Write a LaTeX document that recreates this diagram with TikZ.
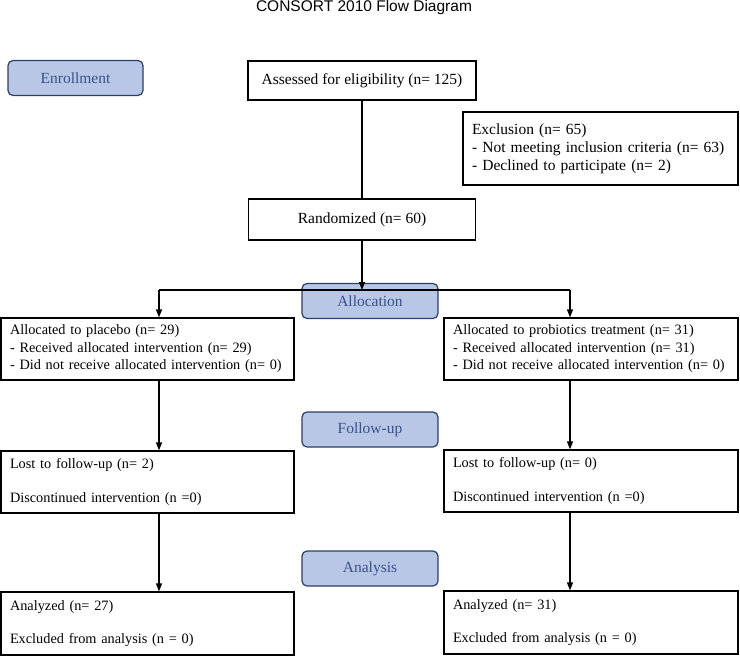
\documentclass[tikz,border=0pt]{standalone}
\usepackage{fontspec}
\setmainfont{Liberation Serif}
\newfontfamily\titlefont{Liberation Sans}
\usetikzlibrary{arrows.meta}
\definecolor{phasefill}{RGB}{184,199,230}
\definecolor{phasedraw}{RGB}{45,62,100}
\definecolor{phasetext}{RGB}{58,82,138}
\begin{document}
\begin{tikzpicture}[x=1pt,y=-1pt,
  every node/.style={font=\fontsize{15.5}{18}\selectfont},
  phase/.style={draw=phasedraw,fill=phasefill,text=phasetext,line width=1.2pt,rounded corners=5pt,minimum width=136pt,minimum height=35pt,inner sep=0pt},
  cbox/.style={draw,line width=1.2pt,inner sep=0pt,align=center},
  lbox/.style={draw,line width=1.2pt,inner xsep=9pt,inner ysep=0pt,align=left},
  small/.style={font=\fontsize{14.3}{17.5}\selectfont},
  conn/.style={line width=1.2pt},
  arr/.style={line width=1.2pt,-{Triangle[length=8pt,width=6pt]}}]
\useasboundingbox (0,0) rectangle (740,656);
\node[font=\titlefont\fontsize{15.5}{18}\selectfont] (title) at (364,7.5) {CONSORT 2010 Flow Diagram};
\node[phase,minimum width=135pt] (enroll) at (75.5,78) {Enrollment};
\node[cbox,minimum width=228pt,minimum height=39pt] (assess) at (362,80.5) {Assessed for eligibility (n= 125)};
\node[lbox,text width=257pt,minimum height=73pt] (excl) at (600.5,148.5) {Exclusion (n= 65)\\- Not meeting inclusion criteria (n= 63)\\- Declined to participate (n= 2)};
\node[cbox,minimum width=227pt,minimum height=41pt] (rand) at (362,219.5) {Randomized (n= 60)};
\node[phase] (alloc) at (370,301) {Allocation};
\node[lbox,small,text width=275pt,minimum height=62pt] (allocL) at (147.5,349) {Allocated to placebo (n= 29)\\- Received allocated intervention (n= 29)\\- Did not receive allocated intervention (n= 0)};
\node[lbox,small,text width=276pt,minimum height=62pt] (allocR) at (591,349) {Allocated to probiotics treatment (n= 31)\\- Received allocated intervention (n= 31)\\- Did not receive allocated intervention (n= 0)};
\node[phase] (follow) at (370,429.5) {Follow-up};
\node[lbox,small,text width=275pt,minimum height=62pt] (lostL) at (147.5,482) {Lost to follow-up (n= 2)\\[16pt]Discontinued intervention (n =0)};
\node[lbox,small,text width=276pt,minimum height=62pt] (lostR) at (591,481) {Lost to follow-up (n= 0)\\[16pt]Discontinued intervention (n =0)};
\node[phase] (anal) at (370,568.5) {Analysis};
\node[lbox,small,text width=275pt,minimum height=63pt] (anaL) at (147.5,623.5) {Analyzed (n= 27)\\[16pt]Excluded from analysis (n = 0)};
\node[lbox,small,text width=276pt,minimum height=63pt] (anaR) at (591,622.5) {Analyzed (n= 31)\\[16pt]Excluded from analysis (n = 0)};
\coordinate (sp) at (362,290);
\coordinate (spL) at (159,290);
\coordinate (spR) at (570,290);
\draw[conn] (assess.south) -- (rand.north);
\draw[arr] (rand.south) -- (sp);
\draw[conn] (spL) -- (spR);
\draw[arr] (spL) -- (spL |- allocL.north);
\draw[arr] (spR) -- (spR |- allocR.north);
\draw[arr] (allocL.south -| spL) -- (spL |- lostL.north);
\draw[arr] (allocR.south -| spR) -- (spR |- lostR.north);
\draw[arr] (lostL.south -| spL) -- (spL |- anaL.north);
\draw[arr] (lostR.south -| spR) -- (spR |- anaR.north);
\end{tikzpicture}
\end{document}
